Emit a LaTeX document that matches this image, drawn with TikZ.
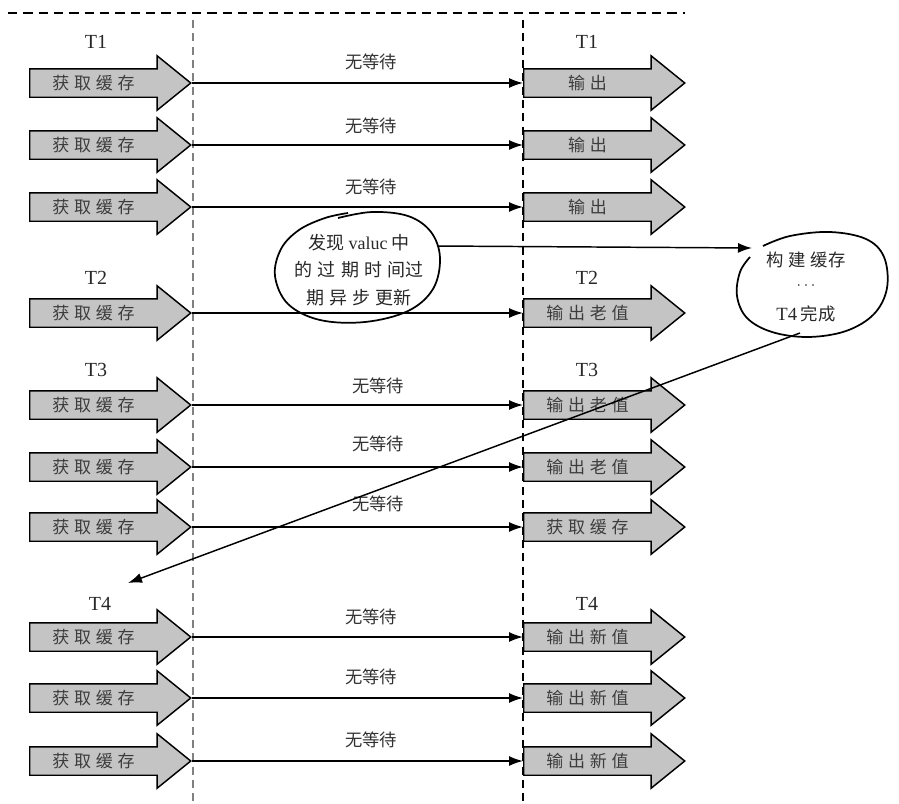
\documentclass[tikz,border=0pt]{standalone}
\usepackage{fontspec}
\setmainfont{Liberation Serif}
\newfontfamily\cjk{Noto Sans CJK SC}
\newfontfamily\cjksp[LetterSpace=28]{Noto Sans CJK SC}
\usepackage{tikz}
\usetikzlibrary{shapes.arrows,arrows.meta}

\begin{document}
\begin{tikzpicture}[x=0.75pt,y=0.75pt,yscale=-1,xscale=1,
  blkarrow/.style={single arrow,draw=black,fill={rgb,255:red,196;green,196;blue,196},line width=1.1pt,
    minimum height=120.75pt,single arrow head extend=9.75pt,single arrow tip angle=78,
    inner xsep=2pt,inner ysep=0pt,text height=15pt,text depth=5.25pt,anchor=tail,
    execute at end node={\hspace*{12pt}},
    font=\cjksp\fontsize{12.75pt}{12.75pt}\selectfont,text={rgb,255:red,60;green,60;blue,60}},
  nowait/.style={draw=black,line width=1.1pt,-{Latex[length=10.5pt,width=7.5pt]}},
  waitlbl/.style={font=\cjk\fontsize{13pt}{13pt}\selectfont,text={rgb,255:red,50;green,50;blue,50}},
  tlbl/.style={font=\fontsize{15pt}{15pt}\selectfont,text={rgb,255:red,40;green,40;blue,40}},
  hand/.style={draw=black,line width=1.3pt}]
\useasboundingbox (0,0) rectangle (899,803);

%Dashed Lines
\draw [black,line width=0.8pt,dash pattern=on 7pt off 4.5pt] (8,13) -- (685,13);
\draw [gray,line width=0.9pt,dash pattern=on 6pt off 4pt] (193,20) -- (193,803);
\draw [black,line width=0.8pt,dash pattern=on 6pt off 4pt] (523,20) -- (523,803);

% Text Node
\node [tlbl] (t1l) at (96,42) {T1};
\node [tlbl] (t1r) at (587,42) {T1};
\node [tlbl] (t2l) at (96,278) {T2};
\node [tlbl] (t2r) at (587,278) {T2};
\node [tlbl] (t3l) at (96,370) {T3};
\node [tlbl] (t3r) at (587,370) {T3};
\node [tlbl] (t4l) at (100,604) {T4};
\node [tlbl] (t4r) at (587,604) {T4};

%Block Arrows: T1
\node [blkarrow] (get1) at (29,83) {获取缓存};
\node [blkarrow] (out1) at (523,83) {输出};
\node [blkarrow] (get2) at (29,145) {获取缓存};
\node [blkarrow] (out2) at (523,145) {输出};
\node [blkarrow] (get3) at (29,207) {获取缓存};
\node [blkarrow] (out3) at (523,207) {输出};
%Block Arrows: T2
\node [blkarrow] (get4) at (29,313) {获取缓存};
\node [blkarrow] (out4) at (523,313) {输出老值};
%Block Arrows: T3
\node [blkarrow] (get5) at (29,405) {获取缓存};
\node [blkarrow] (out5) at (523,405) {输出老值};
\node [blkarrow] (get6) at (29,467) {获取缓存};
\node [blkarrow] (out6) at (523,467) {输出老值};
\node [blkarrow] (get7) at (29,527) {获取缓存};
\node [blkarrow] (out7) at (523,527) {获取缓存};
%Block Arrows: T4
\node [blkarrow] (get8) at (29,637) {获取缓存};
\node [blkarrow] (out8) at (523,637) {输出新值};
\node [blkarrow] (get9) at (29,698) {获取缓存};
\node [blkarrow] (out9) at (523,698) {输出新值};
\node [blkarrow] (get10) at (29,761) {获取缓存};
\node [blkarrow] (out10) at (523,761) {输出新值};

%Straight Lines
\draw [nowait] (get1.tip) -- (out1.tail);
\draw [nowait] (get2.tip) -- (out2.tail);
\draw [nowait] (get3.tip) -- (out3.tail);
\draw [nowait] (get4.tip) -- (out4.tail);
\draw [nowait] (get5.tip) -- (out5.tail);
\draw [nowait] (get6.tip) -- (out6.tail);
\draw [nowait] (get7.tip) -- (out7.tail);
\draw [nowait] (get8.tip) -- (out8.tail);
\draw [nowait] (get9.tip) -- (out9.tail);
\draw [nowait] (get10.tip) -- (out10.tail);

% Text Node
\node [waitlbl] (w1) at (371,62) {无等待};
\node [waitlbl] (w2) at (371,126) {无等待};
\node [waitlbl] (w3) at (371,187) {无等待};
\node [waitlbl] (w5) at (378,386) {无等待};
\node [waitlbl] (w6) at (378,444) {无等待};
\node [waitlbl] (w7) at (378,504) {无等待};
\node [waitlbl] (w8) at (371,617) {无等待};
\node [waitlbl] (w9) at (371,677) {无等待};
\node [waitlbl] (w10) at (371,740) {无等待};

%Shape: Hand Loop
\draw [hand] plot [smooth,tension=0.6] coordinates {(338,218) (372,212) (408,216) (431,232) (440,258) (433,289) (408,311) (365,322) (320,320) (288,304) (275,276) (281,249) (299,230) (325,218) (348,213)};
\node [font=\cjk\fontsize{13.5pt}{20.5pt}\selectfont,align=center,text={rgb,255:red,40;green,40;blue,40}] (find) at (359,270)
  {发现 {\rmfamily valuc} 中\\{\cjksp 的过期时间}过\\{\cjksp 期异步更}新};

%Shape: Hand Loop
\draw [hand] plot [smooth,tension=0.6] coordinates {(763,246) (790,236) (830,232) (866,239) (884,257) (887,288) (874,314) (846,331) (808,337) (772,332) (747,318) (737,296) (740,272) (750,257)};
\node [font=\cjk\fontsize{13pt}{20pt}\selectfont,align=center,text={rgb,255:red,40;green,40;blue,40}] (build) at (806,287)
  {{\cjksp 构建缓}存\\{\rmfamily\raisebox{3pt}{$\cdots$}}\\{\rmfamily\fontsize{14pt}{14pt}\selectfont T4} 完成};

%Straight Lines
\coordinate (findout) at (437,246);
\coordinate (buildin) at (752,248);
\coordinate (buildout) at (800,333);
\coordinate (backin) at (128,583);
\draw [nowait] (findout) -- (buildin);
\draw [nowait] (buildout) -- (backin);

\end{tikzpicture}
\end{document}
